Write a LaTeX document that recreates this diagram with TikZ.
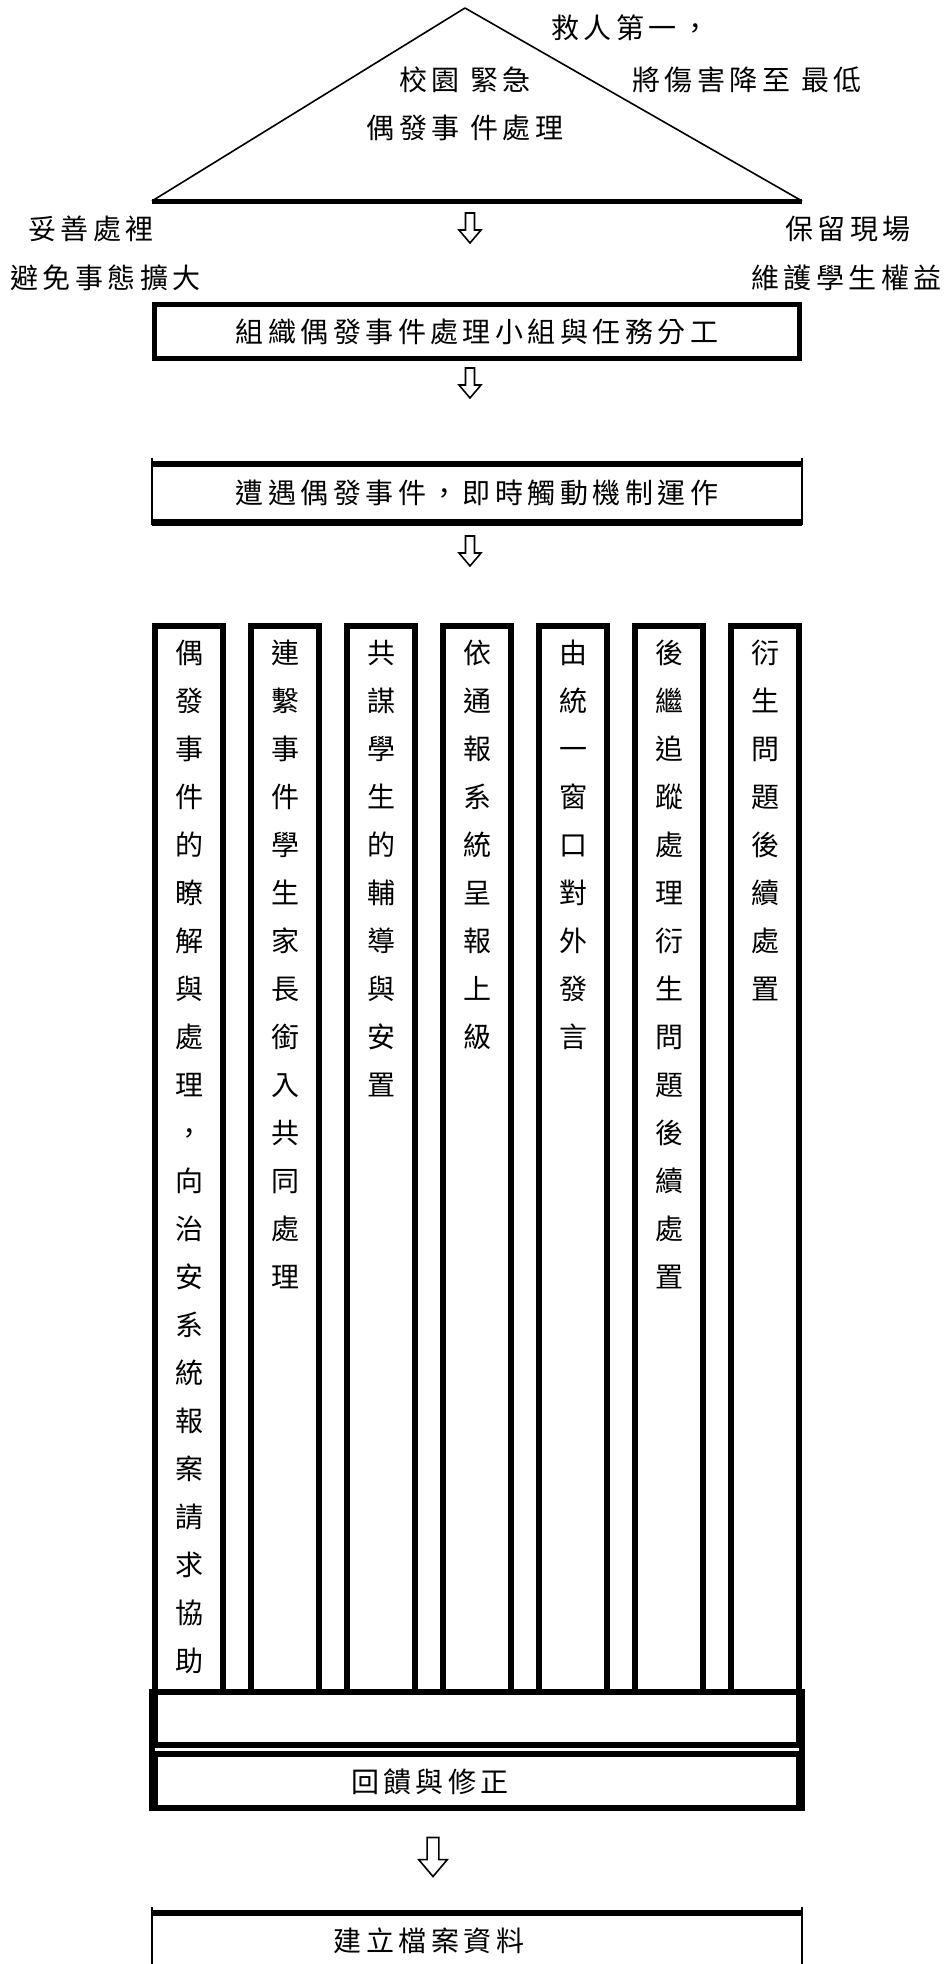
\documentclass[tikz,border=0pt]{standalone}
\usepackage{fontspec}
\newfontfamily\cjk[LetterSpace=16]{Noto Sans CJK TC}
\newfontfamily\cjkcol{Noto Sans CJK TC}
\usetikzlibrary{positioning,calc}
\ExplSyntaxOn
\NewDocumentCommand\vstack{m}
  {
    \tl_set:No \l_tmpa_tl {#1}
    \tl_map_inline:Nn \l_tmpa_tl { \noindent ##1 \par }
  }
\ExplSyntaxOff
\tikzset{
    heavy/.style={line width=3pt},
    light/.style={line width=0.8pt},
    txt/.style={
        font=\cjk\fontsize{14pt}{24pt}\selectfont,
        inner sep=0pt
    },
    boxarea/.style={
        minimum width=322pt,
        inner sep=0pt
    },
    colbox/.style={
        minimum width=34pt,
        minimum height=533pt,
        inner sep=0pt
    },
    coltext/.style={
        font=\cjkcol\fontsize{14pt}{24pt}\selectfont,
        text width=20pt,
        align=center,
        inner sep=0pt
    },
    downarrow/.pic={
        \draw[light] (-4.5,-15) -- (4.5,-15) -- (4.5,2) -- (11,2)
            -- (0,15) -- (-11,2) -- (-4.5,2) -- cycle;
    }
}

\begin{document}
\begin{tikzpicture}[x=0.5pt, y=-0.5pt]
    \useasboundingbox (0,0) rectangle (943,1964);
    % triangle
    \coordinate (apex) at (465,8);
    \coordinate (baseL) at (152,201);
    \coordinate (baseR) at (802,201);
    \draw[light, line join=round] (baseL) -- (apex) -- (baseR);
    \draw[line width=2.5pt] (baseL) -- (baseR);
    \node[txt, align=center] (title) at (465,104) {校園 緊急\\偶發事 件處理};
    \node[txt, anchor=west] (rescue) at (551,28) {救人第一，};
    \node[txt, anchor=west] (lessen) at (632,80) {將傷害降至 最低};
    \node[txt, anchor=west] (handle) at (28,229) {妥善處裡};
    \node[txt, anchor=west] (avoid) at (10,278) {避免事態擴大};
    \node[txt, anchor=west] (keep) at (785,229) {保留現場};
    \node[txt, anchor=west] (protect) at (751,278) {維護學生權益};
    \pic at (470,228) {downarrow};

    % team box
    \node[txt, draw, line width=2.5pt, minimum width=322.5pt, minimum height=27pt]
        (team) at (477,331.5) {組織偶發事件處理小組與任務分工};
    \pic at (470,383) {downarrow};

    % trigger box
    \node[txt, minimum width=324.5pt, minimum height=28.75pt]
        (trigger) at (477,493.25) {遭遇偶發事件，即時觸動機制運作};
    \draw[light] ([yshift=3pt]trigger.north west) -- ([yshift=-1.5pt]trigger.south west);
    \draw[light] ([yshift=3pt]trigger.north east) -- ([yshift=-1.5pt]trigger.south east);
    \draw[line width=3.3pt] (trigger.north west) -- (trigger.north east);
    \draw[line width=3.3pt] (trigger.south west) -- (trigger.south east);
    \pic at (470,551) {downarrow};

    % task columns
    \foreach \txt [count=\i] in {偶發事件的瞭解與處理，向治安系統報案請求協助,
        連繫事件學生家長銜入共同處理, 共謀學生的輔導與安置, 依通報系統呈報上級,
        由統一窗口對外發言, 後繼追蹤處理衍生問題後續處置, 衍生問題後續處置} {
        \node[colbox] (col\i) at ({189+96*(\i-1)},1159) {};
        \draw[heavy] (col\i.south west) -- (col\i.north west)
            -- (col\i.north east) -- (col\i.south east);
        \node[coltext, anchor=north] (task\i) at ([yshift=-7pt]col\i.north) {\vstack{\txt}};
    }

    % blank and feedback boxes
    \node[boxarea, draw, heavy, minimum height=26.25pt] (blank) at (477,1718.25) {};
    \node[boxarea, draw, heavy, minimum height=27pt] (fbbox) at (477,1781) {};
    \draw[heavy] (blank.north west) -- (fbbox.south west);
    \draw[heavy] (blank.north east) -- (fbbox.south east);
    \node[txt] (feedback) at (430,1782) {回饋與修正};
    \pic[scale=1.3] at (433,1857) {downarrow};

    % archive box
    \node[minimum width=324.5pt, minimum height=28.5pt, inner sep=0pt]
        (archbox) at (477,1941.5) {};
    \draw[light] ([yshift=3pt]archbox.north west) -- (archbox.south west);
    \draw[light] ([yshift=3pt]archbox.north east) -- (archbox.south east);
    \draw[line width=3pt] (archbox.north west) -- (archbox.north east);
    \node[txt] (archive) at (429,1941) {建立檔案資料};
\end{tikzpicture}
\end{document}
